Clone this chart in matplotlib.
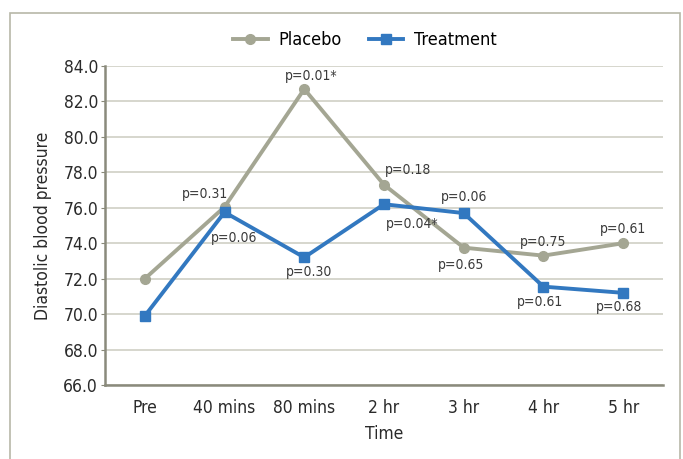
import matplotlib.pyplot as plt
from matplotlib.patches import Rectangle

plt.rcParams['font.family'] = ['DejaVu Sans']
plt.rcParams['font.stretch'] = 'condensed'

times = ['Pre', '40 mins', '80 mins', '2 hr', '3 hr', '4 hr', '5 hr']
placebo = [72.0, 76.05, 82.7, 77.3, 73.75, 73.3, 74.0]
treatment = [69.9, 75.75, 73.2, 76.2, 75.7, 71.55, 71.2]

# p-value labels: (index, text, dx px, dy px)
placebo_p = [(1, 'p=0.31', -20, 13), (2, 'p=0.01*', 7, 13), (3, 'p=0.18', 24, 15),
             (4, 'p=0.65', -3, -17), (5, 'p=0.75', 0, 14), (6, 'p=0.61', 0, 14)]
treatment_p = [(1, 'p=0.06', 9, -26), (2, 'p=0.30', 5, -15), (3, 'p=0.04*', 28, -20),
               (4, 'p=0.06', 0, 16), (5, 'p=0.61', -3, -15), (6, 'p=0.68', -4, -14)]

c_placebo = '#A4A693'
c_treat = '#3278C0'
c_text = '#3a3a3a'

fig = plt.figure(figsize=(6.83, 4.59), dpi=100)
fig.patches.append(Rectangle((10 / 683, -0.05), 670 / 683, 1 - 13 / 459 + 0.05,
                             transform=fig.transFigure, fill=False,
                             edgecolor='#b8b8a8', linewidth=1.2))
ax = fig.add_axes([105 / 683, 1 - 385 / 459, 558 / 683, 319 / 459])

x = list(range(len(times)))
ax.plot(x, placebo, color=c_placebo, lw=2.8, marker='o', ms=7, label='Placebo', zorder=3)
ax.plot(x, treatment, color=c_treat, lw=2.8, marker='s', ms=7, label='Treatment', zorder=4)

for i, t, dx, dy in placebo_p:
    ax.annotate(t, (i, placebo[i]), xytext=(dx * 0.72, dy * 0.72), textcoords='offset points',
                ha='center', va='center', fontsize=10, color=c_text)
for i, t, dx, dy in treatment_p:
    ax.annotate(t, (i, treatment[i]), xytext=(dx * 0.72, dy * 0.72), textcoords='offset points',
                ha='center', va='center', fontsize=10, color=c_text)

ax.set_xlim(-0.5, 6.5)
ax.set_ylim(66, 84)
ax.set_yticks([66 + 2 * k for k in range(10)])
ax.set_yticklabels(['%.1f' % (66 + 2 * k) for k in range(10)])
ax.set_xticks(x)
ax.set_xticklabels(times)
ax.tick_params(axis='y', length=3, color='#888878', labelsize=12.5, labelcolor='#2a2a2a', pad=2)
ax.tick_params(axis='x', length=0, labelsize=12.5, labelcolor='#2a2a2a', pad=10)
ax.grid(axis='y', color='#cfcfc5', lw=1.2)
ax.set_axisbelow(True)
for s in ['top', 'right']:
    ax.spines[s].set_visible(False)
for s in ['left', 'bottom']:
    ax.spines[s].set_color('#8a8a7c')
    ax.spines[s].set_linewidth(1.8)

ax.set_ylabel('Diastolic blood pressure', fontsize=12.5, color='#2a2a2a', labelpad=8)
ax.set_xlabel('Time', fontsize=12.5, color='#2a2a2a', labelpad=6)

fig.legend(loc='center', bbox_to_anchor=(365 / 683, 1 - 40 / 459), ncol=2, frameon=False,
           fontsize=13, handlelength=1.9, columnspacing=1.5, handletextpad=0.6)

fig.savefig('out.png', dpi=100)
